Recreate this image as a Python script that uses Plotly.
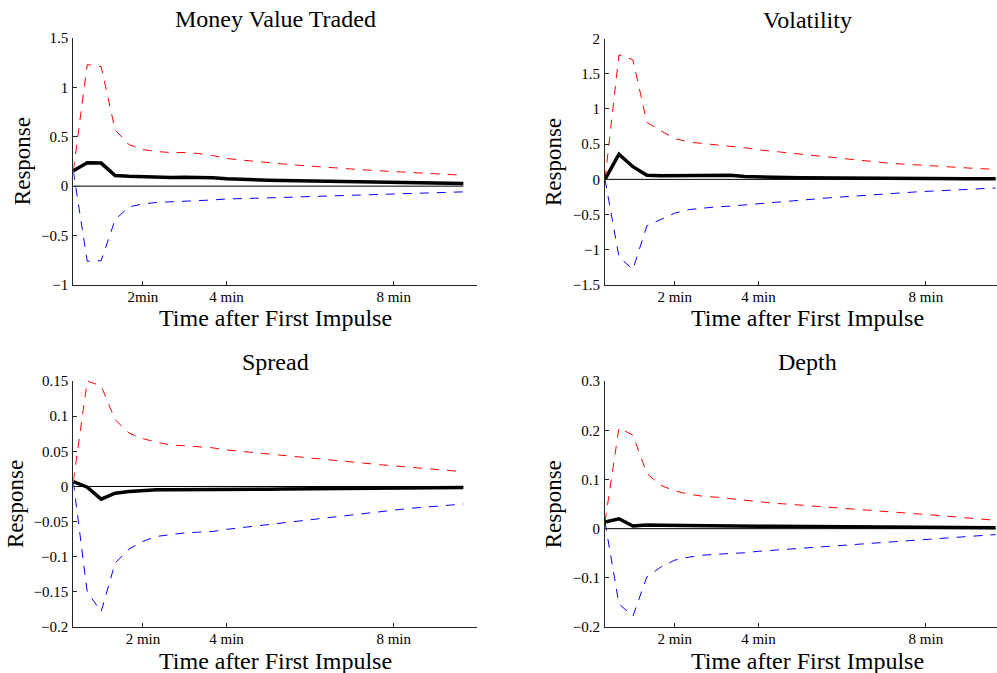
import plotly.graph_objects as go

# time after first impulse, in seconds (20-second steps)
time_sec = [20, 40, 60, 80, 100, 120, 140, 160, 180, 200, 220, 240, 260, 280, 300,
            320, 340, 360, 380, 400, 420, 440, 460, 480, 500, 520, 540, 560, 580]
zero_line = [0] * len(time_sec)

titles = ["Money Value Traded", "Volatility", "Spread", "Depth"]

# Money Value Traded
mvt_resp = [0.155, 0.236, 0.233, 0.108, 0.100, 0.095, 0.090, 0.088, 0.090, 0.090,
            0.085, 0.075, 0.068, 0.064, 0.060, 0.057, 0.054, 0.051, 0.048, 0.045,
            0.042, 0.040, 0.037, 0.035, 0.033, 0.031, 0.030, 0.028, 0.027]
mvt_upper = [0.155, 1.23, 1.21, 0.57, 0.42, 0.37, 0.35, 0.34, 0.34, 0.33,
             0.31, 0.28, 0.265, 0.25, 0.237, 0.225, 0.213, 0.202, 0.192, 0.182,
             0.172, 0.163, 0.155, 0.147, 0.140, 0.133, 0.126, 0.118, 0.110]
mvt_lower = [0.155, -0.76, -0.755, -0.34, -0.21, -0.18, -0.165, -0.16, -0.155, -0.15,
             -0.14, -0.13, -0.128, -0.125, -0.12, -0.115, -0.11, -0.106, -0.102, -0.098,
             -0.095, -0.09, -0.086, -0.082, -0.077, -0.072, -0.067, -0.063, -0.058]

# Volatility
vol_resp = [0.0, 0.357, 0.18, 0.06, 0.05, 0.05, 0.05, 0.055, 0.06, 0.06,
            0.04, 0.032, 0.028, 0.025, 0.023, 0.021, 0.019, 0.018, 0.016, 0.015,
            0.014, 0.013, 0.012, 0.011, 0.011, 0.010, 0.010, 0.010, 0.010]
vol_upper = [0.0, 1.77, 1.70, 0.81, 0.69, 0.58, 0.53, 0.51, 0.50, 0.48,
             0.45, 0.42, 0.40, 0.38, 0.36, 0.34, 0.31, 0.29, 0.27, 0.252,
             0.237, 0.222, 0.208, 0.195, 0.183, 0.172, 0.162, 0.152, 0.142]
vol_lower = [0.0, -1.10, -1.28, -0.66, -0.57, -0.48, -0.43, -0.405, -0.39, -0.38,
             -0.365, -0.345, -0.33, -0.315, -0.295, -0.28, -0.263, -0.248, -0.233, -0.218,
             -0.205, -0.193, -0.182, -0.171, -0.161, -0.151, -0.141, -0.132, -0.123]

# Spread
spr_resp = [0.007, -0.001, -0.018, -0.0095, -0.007, -0.0055, -0.0048, -0.0045, -0.0045, -0.0048,
            -0.005, -0.0048, -0.0045, -0.0042, -0.004, -0.0037, -0.0035, -0.0033, -0.003, -0.0028,
            -0.0026, -0.0024, -0.0022, -0.002, -0.0019, -0.0018, -0.0017, -0.0016, -0.0015]
spr_upper = [0.007, 0.150, 0.143, 0.095, 0.076, 0.068, 0.063, 0.059, 0.058, 0.057,
             0.055, 0.052, 0.050, 0.048, 0.046, 0.044, 0.042, 0.040, 0.038, 0.036,
             0.0345, 0.0328, 0.031, 0.0294, 0.0277, 0.026, 0.0243, 0.0227, 0.021]
spr_lower = [0.007, -0.150, -0.178, -0.109, -0.089, -0.078, -0.071, -0.068, -0.066, -0.065,
             -0.064, -0.061, -0.0587, -0.0563, -0.054, -0.0517, -0.0493, -0.047, -0.0447, -0.0423,
             -0.040, -0.0377, -0.0353, -0.033, -0.0314, -0.0298, -0.0282, -0.0266, -0.025]

# Depth
dep_resp = [0.0136, 0.020, 0.0055, 0.0075, 0.007, 0.0065, 0.006, 0.006, 0.0058, 0.0056,
            0.0054, 0.005, 0.0048, 0.0046, 0.0044, 0.0042, 0.004, 0.0038, 0.0036, 0.0034,
            0.0032, 0.003, 0.0028, 0.0026, 0.0024, 0.0022, 0.002, 0.0019, 0.0018]
dep_upper = [0.0136, 0.205, 0.190, 0.112, 0.088, 0.077, 0.070, 0.066, 0.064, 0.061,
             0.058, 0.054, 0.052, 0.050, 0.048, 0.0456, 0.0435, 0.0414, 0.0393, 0.0372,
             0.0351, 0.033, 0.031, 0.029, 0.0266, 0.0242, 0.0218, 0.0194, 0.017]
dep_lower = [0.0136, -0.153, -0.178, -0.098, -0.078, -0.064, -0.058, -0.054, -0.052, -0.051,
             -0.049, -0.046, -0.044, -0.042, -0.040, -0.038, -0.036, -0.034, -0.032, -0.030,
             -0.028, -0.026, -0.024, -0.0217, -0.0198, -0.0178, -0.0158, -0.0139, -0.012]

x_tickvals = [120, 240, 480]
x_ticktext_a = ["2min", "4 min", "8 min"]
x_ticktext_b = ["2 min", "4 min", "8 min"]

y_ticks_mvt = [-1, -0.5, 0, 0.5, 1, 1.5]
y_text_mvt = ["\u22121", "\u22120.5", "0", "0.5", "1", "1.5"]
y_ticks_vol = [-1.5, -1, -0.5, 0, 0.5, 1, 1.5, 2]
y_text_vol = ["\u22121.5", "\u22121", "\u22120.5", "0", "0.5", "1", "1.5", "2"]
y_ticks_spr = [-0.2, -0.15, -0.1, -0.05, 0, 0.05, 0.1, 0.15]
y_text_spr = ["\u22120.2", "\u22120.15", "\u22120.1", "\u22120.05", "0", "0.05", "0.1", "0.15"]
y_ticks_dep = [-0.2, -0.1, 0, 0.1, 0.2, 0.3]
y_text_dep = ["\u22120.2", "\u22120.1", "0", "0.1", "0.2", "0.3"]

FONT = "Liberation Serif"
W, H = 997, 673
# vertical compensation for the capture (observed ~0.975 squeeze about the centre)
SY = 1 / 0.975


def fy(s):
    return H / 2 + (s - H / 2) * SY


panels = [
    dict(resp=mvt_resp, up=mvt_upper, lo=mvt_lower, yr=[-1, 1.5], yt=y_ticks_mvt, ytt=y_text_mvt,
         xtt=x_ticktext_a, xr=[20, 600], px=(73.3, 477.3), py=(38.3, 285.0)),
    dict(resp=vol_resp, up=vol_upper, lo=vol_lower, yr=[-1.5, 2], yt=y_ticks_vol, ytt=y_text_vol,
         xtt=x_ticktext_b, xr=[20, 582], px=(605.0, 997.0), py=(39.0, 285.0)),
    dict(resp=spr_resp, up=spr_upper, lo=spr_lower, yr=[-0.2, 0.15], yt=y_ticks_spr, ytt=y_text_spr,
         xtt=x_ticktext_b, xr=[20, 600], px=(73.3, 477.3), py=(381.0, 626.7)),
    dict(resp=dep_resp, up=dep_upper, lo=dep_lower, yr=[-0.2, 0.3], yt=y_ticks_dep, ytt=y_text_dep,
         xtt=x_ticktext_b, xr=[20, 582], px=(605.0, 997.0), py=(381.0, 626.7)),
]

fig = go.Figure()
layout = dict(
    width=W, height=H, margin=dict(l=0, r=0, t=0, b=0),
    paper_bgcolor="white", plot_bgcolor="white", showlegend=False,
    font=dict(family=FONT, color="black"),
)
annotations = []
for i, p in enumerate(panels, start=1):
    xa = "x" if i == 1 else f"x{i}"
    ya = "y" if i == 1 else f"y{i}"
    fig.add_trace(go.Scatter(x=time_sec, y=zero_line, mode="lines", xaxis=xa, yaxis=ya,
                             line=dict(color="black", width=1)))
    fig.add_trace(go.Scatter(x=time_sec, y=p["up"], mode="lines", xaxis=xa, yaxis=ya,
                             line=dict(color="#ff0000", width=1, dash="9px,8px")))
    fig.add_trace(go.Scatter(x=time_sec, y=p["lo"], mode="lines", xaxis=xa, yaxis=ya,
                             line=dict(color="#0000ff", width=1, dash="9px,8px")))
    fig.add_trace(go.Scatter(x=time_sec, y=p["resp"], mode="lines", xaxis=xa, yaxis=ya,
                             line=dict(color="black", width=3.5)))
    x0, x1 = p["px"]
    y0, y1 = fy(p["py"][0]), fy(p["py"][1])
    xkey = "xaxis" if i == 1 else f"xaxis{i}"
    ykey = "yaxis" if i == 1 else f"yaxis{i}"
    layout[xkey] = dict(
        domain=[x0 / W, x1 / W], anchor=ya, range=p["xr"], showgrid=False, zeroline=False,
        showline=True, linecolor="#262626", linewidth=1, ticks="inside", ticklen=4,
        tickcolor="#262626", tickvals=x_tickvals, ticktext=p["xtt"],
        tickfont=dict(family=FONT, size=15, color="black"), ticklabelstandoff=-2,
    )
    layout[ykey] = dict(
        domain=[1 - y1 / H, 1 - y0 / H], anchor=xa, range=p["yr"], showgrid=False,
        zeroline=False, showline=True, linecolor="#262626", linewidth=1, ticks="inside",
        ticklen=4, tickcolor="#262626", tickvals=p["yt"], ticktext=p["ytt"],
        tickfont=dict(family=FONT, size=15, color="black"), ticklabelstandoff=1,
    )
    full_w = 477.3 - 73.3
    cx = x0 + full_w / 2
    annotations.append(dict(text=titles[i - 1], x=cx / W, y=1 - fy(p["py"][0] - 19) / H,
                            xref="paper", yref="paper", showarrow=False, xanchor="center",
                            yanchor="middle", font=dict(family=FONT, size=24, color="black")))
    annotations.append(dict(text="Time after First Impulse", x=cx / W,
                            y=1 - fy(p["py"][1] + 33.5) / H, xref="paper", yref="paper",
                            showarrow=False, xanchor="center", yanchor="middle",
                            font=dict(family=FONT, size=24, color="black")))
    ylab_x = 22.7 if i == 1 else (15.0 if i == 3 else 553.3)
    annotations.append(dict(text="Response", x=ylab_x / W,
                            y=1 - fy((p["py"][0] + p["py"][1]) / 2) / H,
                            xref="paper", yref="paper", showarrow=False, textangle=-90,
                            xanchor="center", yanchor="middle",
                            font=dict(family=FONT, size=23, color="black")))

layout["annotations"] = annotations
fig.update_layout(**layout)
fig.write_html(
    "out.html",
    config={"displayModeBar": False},
    post_script=(
        "var de=document.documentElement, b=document.body;"
        "de.style.margin='0'; de.style.padding='0'; de.style.overflow='hidden';"
        "b.style.margin='0'; b.style.padding='0'; b.style.overflow='hidden';"
    ),
)
